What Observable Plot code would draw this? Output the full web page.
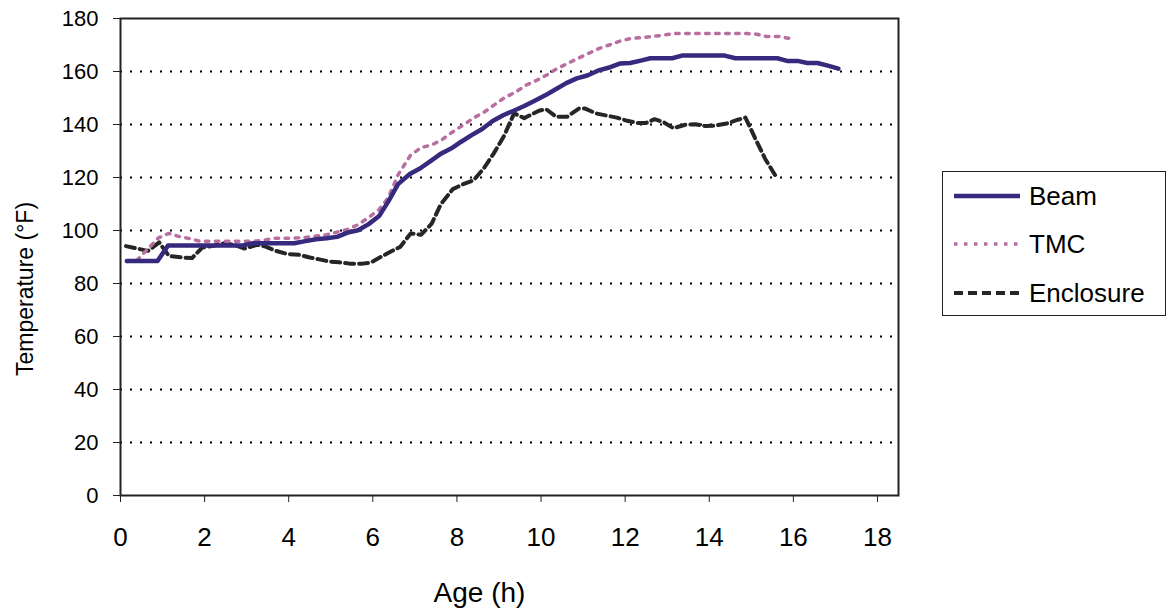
<!DOCTYPE html>
<html>
<head>
<meta charset="utf-8">
<script src="https://cdn.jsdelivr.net/npm/d3@7"></script>
<script src="https://cdn.jsdelivr.net/npm/@observablehq/plot@0.6"></script>
<style>
  html, body { margin: 0; padding: 0; background: #fff; }
  #wrap { position: relative; width: 1167px; height: 609px; font-family: "Liberation Sans", Arial, sans-serif; }
  #legend { position: absolute; left: 942px; top: 171px; width: 222px; height: 143px; border: 1.5px solid #222; background: #fff; }
  .item { position: absolute; left: 0; height: 30px; display: flex; align-items: center; }
  .item span { font-size: 26px; color: #000; margin-left: 8px; }
</style>
</head>
<body>
<div id="wrap"></div>
<script>
// ---- data ----
const beamAge = [0.15,0.4,0.65,0.88,1.13,1.4,1.65,1.9,2.15,2.4,2.65,2.88,3.15,3.4,3.65,3.9,4.13,4.4,4.65,4.9,5.15,5.4,5.65,5.9,6.15,6.37,6.6,6.88,7.13,7.38,7.62,7.87,8.1,8.35,8.6,8.85,9.1,9.35,9.6,9.85,10.1,10.35,10.6,10.85,11.1,11.35,11.6,11.87,12.12,12.37,12.6,12.87,13.12,13.35,13.6,13.87,14.12,14.37,14.62,14.87,15.12,15.37,15.62,15.85,16.1,16.33,16.57,16.82,17.07];
const beamTemp = [88.5,88.5,88.5,88.5,94.3,94.3,94.3,94.3,94.3,94.3,94.3,94.3,95.2,95.2,95.2,95.2,95.2,96,96.7,97.1,97.6,99.2,100.1,102.4,105.5,111,117.5,121.3,123.5,126.3,129,131,133.5,136,138.3,141.3,143.5,145.2,147,149,151,153.3,155.6,157.4,158.5,160.3,161.4,163,163.2,164.1,165,165,165,166,166,166,166,166,165,165,165,165,165,164,164,163.2,163.2,162.2,161.1];

const tmcAge = [0.15,0.4,0.9,1.15,1.4,1.65,1.9,2.15,2.4,2.65,2.9,3.15,3.4,3.65,3.9,4.13,4.4,4.65,4.9,5.15,5.4,5.65,5.9,6.15,6.37,6.6,6.9,7.15,7.4,7.63,7.87,8.15,8.4,8.64,8.88,9.12,9.4,9.65,9.9,10.15,10.38,10.65,10.9,11.14,11.38,11.62,11.9,12.15,12.4,12.63,12.87,13.15,13.4,13.65,13.9,14.15,14.4,14.65,14.9,15.12,15.37,15.65,15.9];
const tmcTemp = [88.3,88.9,97.2,98.9,97.7,96.9,95.9,95.9,95.9,95.9,95.9,96,96.3,97.1,97.1,97.1,97.4,97.9,98.4,99.4,100.4,102.2,104.9,107.9,112.5,121,128.5,131.3,132.3,134.1,136.9,139.8,142.5,144.6,147.3,150,152.3,154.9,156.7,158.8,161.1,163.2,165.1,166.9,168.7,170,171.6,172.5,172.8,173.2,173.6,174.3,174.3,174.3,174.3,174.3,174.3,174.3,174.3,174.1,173.2,173.2,172.5];

const encAge = [0.13,0.65,0.92,1.15,1.47,1.7,1.95,2.2,2.47,2.7,2.95,3.25,3.45,3.7,3.97,4.25,4.5,4.7,4.96,5.2,5.45,5.75,5.95,6.2,6.43,6.65,6.9,7.15,7.4,7.62,7.9,8.15,8.4,8.64,8.88,9.12,9.36,9.6,9.95,10.12,10.36,10.62,10.9,11.05,11.3,11.55,11.8,12.05,12.3,12.5,12.7,12.92,13.15,13.43,13.67,13.91,14.14,14.42,14.68,14.86,15.1,15.33,15.6];
const encTemp = [94.1,92.3,95.5,90.4,89.8,89.6,93.6,94.2,95.2,94.6,93.2,94.6,93.9,92.3,91.1,90.8,89.8,89.2,88.3,88,87.5,87.5,87.9,90.1,92.1,93.8,98.9,98.4,102.6,110,115.6,117.5,119,123.5,129.2,135.7,144.2,142.4,145.2,145.8,142.9,142.9,146,146,144.2,143.4,142.6,141.4,140.6,140.6,142,140.8,138.6,139.9,140.1,139.4,139.6,140.4,141.8,142.6,134.5,127,120];

const xTicks = [0,2,4,6,8,10,12,14,16,18];
const yTicks = [0,20,40,60,80,100,120,140,160,180];
const gridLevels = [20,40,60,80,100,120,140,160];

const seriesNames = ["Beam", "TMC", "Enclosure"];
const seriesColors = ["#352a7e", "#b86ea0", "#262626"];

const yTitle = "Temperature (°F)";
const xTitle = "Age (h)";

// ---- tables ----
const beam = beamAge.map((a, i) => ({age: a, temp: beamTemp[i]}));
const tmc = tmcAge.map((a, i) => ({age: a, temp: tmcTemp[i]}));
const enc = encAge.map((a, i) => ({age: a, temp: encTemp[i]}));

const dashes = [null, "3.5 6.5", "9 5"];
const widths = [4.5, 3.5, 4];

const chart = Plot.plot({
  width: 1167,
  height: 609,
  marginLeft: 120,
  marginRight: 269,
  marginTop: 18,
  marginBottom: 114,
  style: {fontFamily: '"Liberation Sans", Arial, sans-serif', color: "#000", background: "#fff"},
  x: {domain: [0, 18.5]},
  y: {domain: [0, 180]},
  marks: [
    Plot.ruleY(gridLevels, {stroke: "#000", strokeWidth: 2, strokeDasharray: "2 8"}),
    Plot.frame({stroke: "#222", strokeWidth: 2}),
    Plot.axisY({ticks: yTicks, tickSize: 7, tickPadding: 15, fontSize: 22, label: null, stroke: "#222"}),
    Plot.axisX({ticks: xTicks, tickSize: 7, tickPadding: 25, fontSize: 26, label: null, stroke: "#222"}),
    Plot.line(enc, {x: "age", y: "temp", stroke: seriesColors[2], strokeWidth: widths[2], strokeDasharray: dashes[2]}),
    Plot.line(tmc, {x: "age", y: "temp", stroke: seriesColors[1], strokeWidth: widths[1], strokeDasharray: dashes[1]}),
    Plot.line(beam, {x: "age", y: "temp", stroke: seriesColors[0], strokeWidth: widths[0]}),
    Plot.text([yTitle], {frameAnchor: "left", text: d => d, rotate: -90, dx: -95, dy: 32, fontSize: 23, textAnchor: "middle", lineAnchor: "middle", fill: "#000"}),
    Plot.text([xTitle], {frameAnchor: "bottom", text: d => d, dx: -30, dy: 98, fontSize: 28, textAnchor: "middle", lineAnchor: "middle", fill: "#000"})
  ]
});
document.getElementById("wrap").appendChild(chart);

// legend
const legend = document.createElement("div");
legend.id = "legend";
const tops = [9, 57, 106];
seriesNames.forEach((name, i) => {
  const item = document.createElement("div");
  item.className = "item";
  item.style.top = tops[i] + "px";
  item.style.left = "10px";
  const svg = d3.create("svg").attr("width", 68).attr("height", 30);
  svg.append("line").attr("x1", 1).attr("x2", 67).attr("y1", 15).attr("y2", 15)
    .attr("stroke", seriesColors[i]).attr("stroke-width", widths[i])
    .attr("stroke-dasharray", dashes[i]);
  item.appendChild(svg.node());
  const span = document.createElement("span");
  span.textContent = name;
  item.appendChild(span);
  legend.appendChild(item);
});
document.getElementById("wrap").appendChild(legend);
</script>
</body>
</html>
